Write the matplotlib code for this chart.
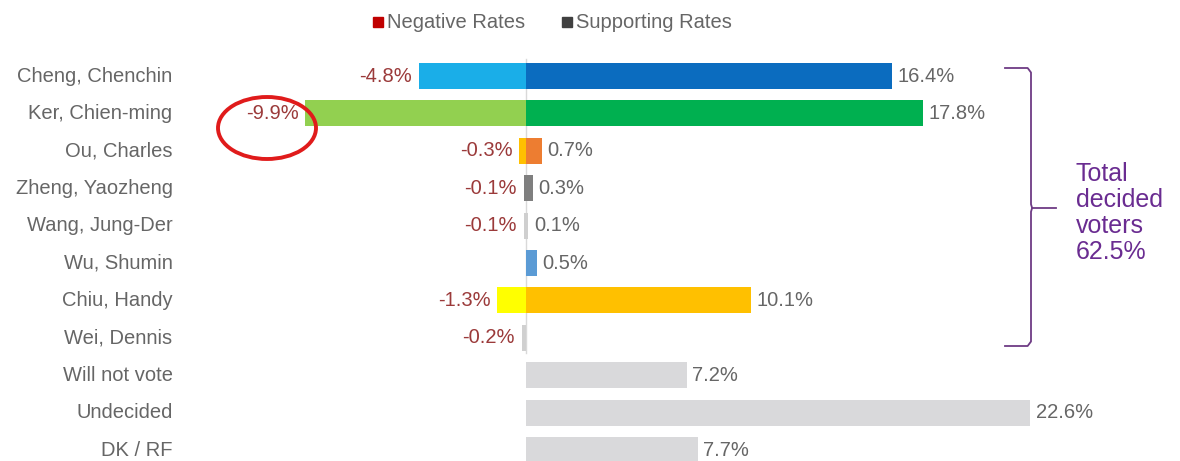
import matplotlib.pyplot as plt
from matplotlib.patches import Ellipse, Rectangle
import numpy as np

plt.rcParams["font.family"] = ["Liberation Sans", "DejaVu Sans"]

names = ["Cheng, Chenchin", "Ker, Chien-ming", "Ou, Charles", "Zheng, Yaozheng",
         "Wang, Jung-Der", "Wu, Shumin", "Chiu, Handy", "Wei, Dennis",
         "Will not vote", "Undecided", "DK / RF"]
negative = [-4.8, -9.9, -0.3, -0.1, -0.1, None, -1.3, -0.2, None, None, None]
supporting = [16.4, 17.8, 0.7, 0.3, 0.1, 0.5, 10.1, None, 7.2, 22.6, 7.7]
neg_colors = ["#1aaee8", "#92d050", "#ffc000", "#7f7f7f", "#cfcfcf", "#5b9bd5",
              "#ffff00", "#d0d0d0", "#d9d9db", "#d9d9db", "#d9d9db"]
pos_colors = ["#0b6cbf", "#00b050", "#ed7d31", "#7f7f7f", "#cfcfcf", "#5b9bd5",
              "#ffc000", "#d0d0d0", "#d9d9db", "#d9d9db", "#d9d9db"]
decided_total = "62.5%"

fig = plt.figure(figsize=(11.8, 4.61), dpi=100)
ax = fig.add_axes([0, 0, 1, 1])
# x: 22.3 px per percent with zero at pixel 526; y: rows 37.4 px apart
ax.set_xlim(-526 / 22.3, (1180 - 526) / 22.3)
ax.set_ylim((461 - 76) / 37.4, -76 / 37.4)
ax.axis("off")

bar_h = 0.7
fs = 14.5
neg_txt = "#9b3a3a"
pos_txt = "#666666"

ax.plot([0, 0], [-0.45, 7.4], color="#d9d9d9", lw=1, zorder=1)

for i, name in enumerate(names):
    ax.text(-15.85, i, name, ha="right", va="center", fontsize=fs, color="#666666")
    n = negative[i]
    if n is not None:
        ax.barh(i, n, height=bar_h, color=neg_colors[i], zorder=2)
        ax.text(n - 0.3, i, f"{n:.1f}%", ha="right", va="center", fontsize=fs, color=neg_txt)
    p = supporting[i]
    if p is not None:
        ax.barh(i, p, height=bar_h, color=pos_colors[i], zorder=2)
        ax.text(p + 0.25, i, f"{p:.1f}%", ha="left", va="center", fontsize=fs, color=pos_txt)

# legend
fig.patches.append(Rectangle((373 / 1180, 1 - 27 / 461), 10 / 1180, 10 / 461,
                             transform=fig.transFigure, color="#c00000"))
fig.text(387 / 1180, 1 - 22 / 461, "Negative Rates", ha="left", va="center",
         fontsize=fs, color="#666666")
fig.patches.append(Rectangle((562 / 1180, 1 - 27 / 461), 10 / 1180, 10 / 461,
                             transform=fig.transFigure, color="#404040"))
fig.text(576 / 1180, 1 - 22 / 461, "Supporting Rates", ha="left", va="center",
         fontsize=fs, color="#666666")

# red circle around Ker's negative rate
circle = Ellipse(((267 - 526) / 22.3, (128 - 76) / 37.4), 98 / 22.3, 62 / 37.4,
                 angle=0, fill=False, edgecolor="#e01b1b", lw=2.8, zorder=4)
ax.add_patch(circle)

# bracket for decided voters
purple = "#6e3b85"
bx = (1031 - 526) / 22.3
top = (68 - 76) / 37.4
bot = (346 - 76) / 37.4
mid = (208 - 76) / 37.4
ax.plot([(1005 - 526) / 22.3, bx - 0.15, bx, bx, bx + 0.05, (1056 - 526) / 22.3],
        [top, top, top + 0.12, mid - 0.1, mid, mid], color=purple, lw=1.3)
ax.plot([(1005 - 526) / 22.3, bx - 0.15, bx, bx, bx + 0.05],
        [bot, bot, bot - 0.12, mid + 0.1, mid], color=purple, lw=1.3)
fig.text(1076 / 1180, 1 - 213 / 461, "Total\ndecided\nvoters\n" + decided_total,
         ha="left", va="center", fontsize=18, color="#6a2c91", linespacing=1.1)

fig.savefig("out.png", dpi=100)
